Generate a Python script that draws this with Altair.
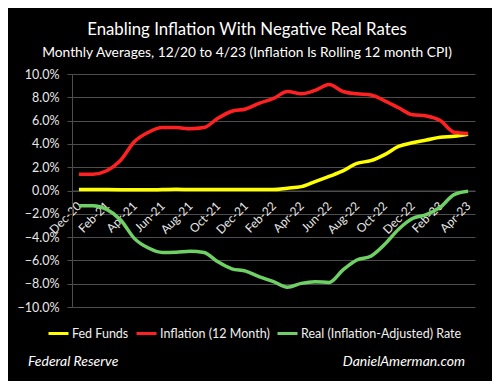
import altair as alt
import pandas as pd

months = ["Dec-20", "Jan-21", "Feb-21", "Mar-21", "Apr-21", "May-21", "Jun-21", "Jul-21",
          "Aug-21", "Sep-21", "Oct-21", "Nov-21", "Dec-21", "Jan-22", "Feb-22", "Mar-22",
          "Apr-22", "May-22", "Jun-22", "Jul-22", "Aug-22", "Sep-22", "Oct-22", "Nov-22",
          "Dec-22", "Jan-23", "Feb-23", "Mar-23", "Apr-23"]
fed_funds = [0.09, 0.09, 0.08, 0.07, 0.07, 0.06, 0.08, 0.10, 0.09, 0.08, 0.08, 0.08, 0.08,
             0.08, 0.08, 0.20, 0.33, 0.77, 1.21, 1.68, 2.33, 2.56, 3.08, 3.78, 4.10, 4.33,
             4.57, 4.65, 4.83]
inflation = [1.4, 1.4, 1.7, 2.6, 4.2, 5.0, 5.4, 5.4, 5.3, 5.4, 6.2, 6.8, 7.0, 7.5, 7.9, 8.5,
             8.3, 8.6, 9.1, 8.5, 8.3, 8.2, 7.7, 7.1, 6.5, 6.4, 6.0, 5.0, 4.9]
real_rate = [-1.31, -1.31, -1.62, -2.53, -4.13, -4.94, -5.32, -5.30, -5.21, -5.32, -6.12,
             -6.72, -6.92, -7.42, -7.82, -8.30, -7.97, -7.83, -7.89, -6.82, -5.97, -5.64,
             -4.62, -3.32, -2.40, -2.07, -1.43, -0.35, -0.07]

series_names = ["Fed Funds", "Inflation (12 Month)", "Real (Inflation-Adjusted) Rate"]
series_colors = ["#ffff00", "#ff2121", "#6fd066"]
y_ticks = [-10, -8, -6, -4, -2, 0, 2, 4, 6, 8, 10]
x_label_months = months[::2]

title_text = "Enabling Inflation With Negative Real Rates"
subtitle_text = "Monthly Averages, 12/20 to 4/23 (Inflation Is Rolling 12 month CPI)"
source_text = "Federal Reserve"
site_text = "DanielAmerman.com"

rows = []
for name, vals in zip(series_names, [fed_funds, inflation, real_rate]):
    for i, (m, v) in enumerate(zip(months, vals)):
        rows.append({"month": m, "value": v, "series": name, "order": i})
df = pd.DataFrame(rows)

W, H = 403, 233
FONT = "Lato"
GRID = "#4d4d4d"

lines = alt.Chart(df).mark_line(strokeWidth=3.5, interpolate="monotone").encode(
    x=alt.X("month:O", sort=months,
            scale=alt.Scale(type="point", padding=0.5),
            axis=alt.Axis(values=x_label_months, labelAngle=-45, labelAlign="right",
                          labelBaseline="middle", title=None,
                          offset=-H / 2, ticks=False, labelPadding=13,
                          labelFontSize=12, labelColor="#e8e8e8", labelFont=FONT,
                          domainColor=GRID, grid=False)),
    y=alt.Y("value:Q", scale=alt.Scale(domain=[-10, 10], nice=False),
            axis=alt.Axis(values=y_ticks, labelExpr="format(datum.value, '.1f') + '%'",
                          title=None, gridColor=GRID, domainColor=GRID, tickColor=GRID,
                          tickSize=5, labelPadding=8, labelFontSize=12.5,
                          labelColor="#e8e8e8", labelFont=FONT)),
    color=alt.Color("series:N", sort=series_names,
                    scale=alt.Scale(domain=series_names, range=series_colors),
                    legend=alt.Legend(title=None, orient="none", legendX=-25, legendY=248,
                                      direction="horizontal", symbolType="stroke",
                                      symbolSize=400, symbolStrokeWidth=3,
                                      labelFontSize=12.5, labelColor="#f0f0f0",
                                      labelFont=FONT, labelOffset=2, columnPadding=1,
                                      labelLimit=400)),
    order="order:Q",
)

dummy = alt.Data(values=[{"a": 1}])


def note(text, x, y, size, align="center", style="normal"):
    return alt.Chart(dummy).mark_text(align=align, baseline="alphabetic", fontSize=size,
                                      fontStyle=style, font=FONT, color="white").encode(
        x=alt.value(x), y=alt.value(y), text=alt.value(text))


chart = alt.layer(
    lines,
    note(title_text, 175, -39, 16.8),
    note(subtitle_text, 175, -17, 13.8),
    note(source_text, -44, 292, 14, "left", "italic"),
    note(site_text, 393, 292, 14, "right", "italic"),
).properties(
    width=W, height=H,
    autosize=alt.AutoSizeParams(type="none"),
    padding={"left": 64, "top": 66, "right": 17, "bottom": 74},
).configure(background="black").configure_view(stroke=None)

chart.save("out.html", embed_options={"renderer": "svg", "actions": False})
